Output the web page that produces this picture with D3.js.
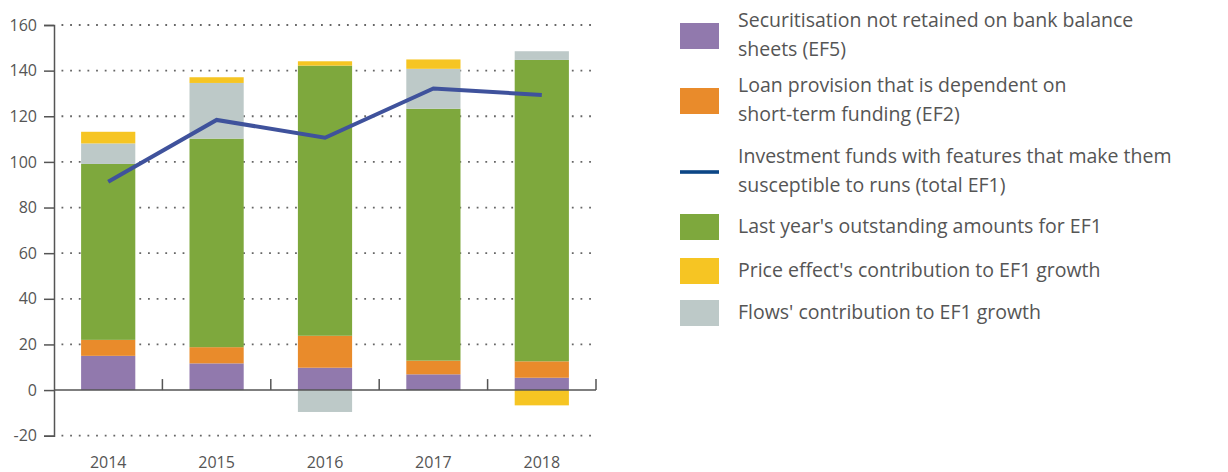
<!DOCTYPE html>
<html>
<head>
<meta charset="utf-8">
<title>EF1 growth decomposition</title>
<script src="https://cdn.jsdelivr.net/npm/d3@7"></script>
<style>
  body { margin:0; background:#fff; }
  svg { display:block; font-family:"Open Sans", sans-serif; }
</style>
</head>
<body>
<script>
// data
var years     = ["2014", "2015", "2016", "2017", "2018"];
var ef5       = [15, 11.7, 9.8, 6.9, 5.4];
var ef2       = [7, 7.1, 14, 6, 7.2];
var lastYear  = [77.1, 91.4, 118.4, 110.4, 132.1];
var flows     = [9, 24.4, -9.6, 17.5, 3.8];
var price     = [5.1, 2.5, 1.9, 4.1, -6.7];
var totalEF1  = [91.3, 118.4, 110.6, 132.2, 129.3];
var yTicks    = [-20, 0, 20, 40, 60, 80, 100, 120, 140, 160];

var keys   = ["ef5", "ef2", "lastYear", "flows", "price"];
var colors = { ef5:"#9179ad", ef2:"#e98b2b", lastYear:"#7ea83d", flows:"#bdc9c8", price:"#f6c523" };

var legendItems = [
  { key:"ef5",      lines:["Securitisation not retained on bank balance", "sheets (EF5)"] },
  { key:"ef2",      lines:["Loan provision that is dependent on", "short-term funding (EF2)"] },
  { key:"line",     lines:["Investment funds with features that make them", "susceptible to runs (total EF1)"] },
  { key:"lastYear", lines:["Last year's outstanding amounts for EF1"] },
  { key:"price",    lines:["Price effect's contribution to EF1 growth"] },
  { key:"flows",    lines:["Flows' contribution to EF1 growth"] }
];
var legendY = [36, 101, 172, 227, 271, 313];

var rows = years.map(function (y, i) {
  return { year:y, ef5:ef5[i], ef2:ef2[i], lastYear:lastYear[i], flows:flows[i], price:price[i], total:totalEF1[i] };
});

var W = 1228, H = 472;
var svg = d3.select("body").append("svg").attr("width", W).attr("height", H);

var x = d3.scaleBand().domain(years).range([54, 596]).padding(0);
var y = d3.scaleLinear().domain([-20, 160]).range([435.7, 25]);
var barW = x.bandwidth() * 0.5;
var textCol = "#555";

// dotted gridlines
svg.append("g").selectAll("line")
  .data(yTicks.filter(function (d) { return d !== 0; }))
  .enter().append("line")
  .attr("x1", 60).attr("x2", 597)
  .attr("y1", function (d) { return y(d); })
  .attr("y2", function (d) { return y(d); })
  .attr("stroke", "#666")
  .attr("stroke-width", 1.8)
  .attr("stroke-dasharray", "1.8 6.85")
  .attr("stroke-dashoffset", -1.5);

// stacked bars
var stack = d3.stack().keys(keys).offset(d3.stackOffsetDiverging);
var series = stack(rows);

svg.append("g").selectAll("g")
  .data(series)
  .enter().append("g")
  .attr("fill", function (d) { return colors[d.key]; })
  .selectAll("rect")
  .data(function (d) { return d; })
  .enter().append("rect")
  .attr("x", function (d) { return x(d.data.year) + (x.bandwidth() - barW) / 2; })
  .attr("width", barW)
  .attr("y", function (d) { return y(Math.max(d[0], d[1])); })
  .attr("height", function (d) { return Math.abs(y(d[0]) - y(d[1])); });

// y axis
var yAxis = svg.append("g").attr("transform", "translate(54,0)")
  .call(d3.axisLeft(y).tickValues(yTicks).tickSize(10).tickPadding(7)
    .tickFormat(function (d) { return String(d); }));
yAxis.select(".domain").attr("stroke", "#555").attr("stroke-width", 1.5);
yAxis.selectAll(".tick line").attr("stroke", "#555").attr("stroke-width", 1.5);
yAxis.selectAll("text").attr("fill", textCol).attr("font-size", "16px")
  .attr("font-family", "Open Sans, sans-serif");

// x axis at zero with boundary ticks pointing up
var xg = svg.append("g");
xg.append("line").attr("x1", 54).attr("x2", 596)
  .attr("y1", y(0)).attr("y2", y(0))
  .attr("stroke", "#555").attr("stroke-width", 1.5);
xg.selectAll(".bt")
  .data(years)
  .enter().append("line")
  .attr("class", "bt")
  .attr("x1", function (d) { return x(d) + x.bandwidth(); })
  .attr("x2", function (d) { return x(d) + x.bandwidth(); })
  .attr("y1", y(0)).attr("y2", y(0) - 11)
  .attr("stroke", "#555").attr("stroke-width", 1.5);
xg.selectAll("text")
  .data(years)
  .enter().append("text")
  .attr("x", function (d) { return x(d) + x.bandwidth() / 2; })
  .attr("y", 462)
  .attr("dy", "0.35em")
  .attr("text-anchor", "middle")
  .attr("fill", textCol)
  .attr("font-size", "16px")
  .text(function (d) { return d; });

// total EF1 line
var line = d3.line()
  .x(function (d) { return x(d.year) + x.bandwidth() / 2; })
  .y(function (d) { return y(d.total); });
svg.append("path")
  .datum(rows)
  .attr("d", line)
  .attr("fill", "none")
  .attr("stroke", "#3f529c")
  .attr("stroke-width", 4);

// legend
var lg = svg.append("g");
legendItems.forEach(function (item, i) {
  var cy = legendY[i];
  if (item.key === "line") {
    lg.append("rect").attr("x", 680).attr("y", cy - 1.8).attr("width", 39).attr("height", 3.6)
      .attr("fill", "#0c4686");
  } else {
    lg.append("rect").attr("x", 680).attr("y", cy - 13).attr("width", 39).attr("height", 26)
      .attr("fill", colors[item.key]);
  }
  var lh = 29.3;
  var top = cy - (item.lines.length - 1) * lh / 2 - 1;
  var t = lg.append("text").attr("fill", textCol).attr("font-size", "19.5px");
  item.lines.forEach(function (s, j) {
    t.append("tspan").attr("x", 738).attr("y", top + j * lh).attr("dy", "0.35em").text(s);
  });
});
</script>
</body>
</html>
